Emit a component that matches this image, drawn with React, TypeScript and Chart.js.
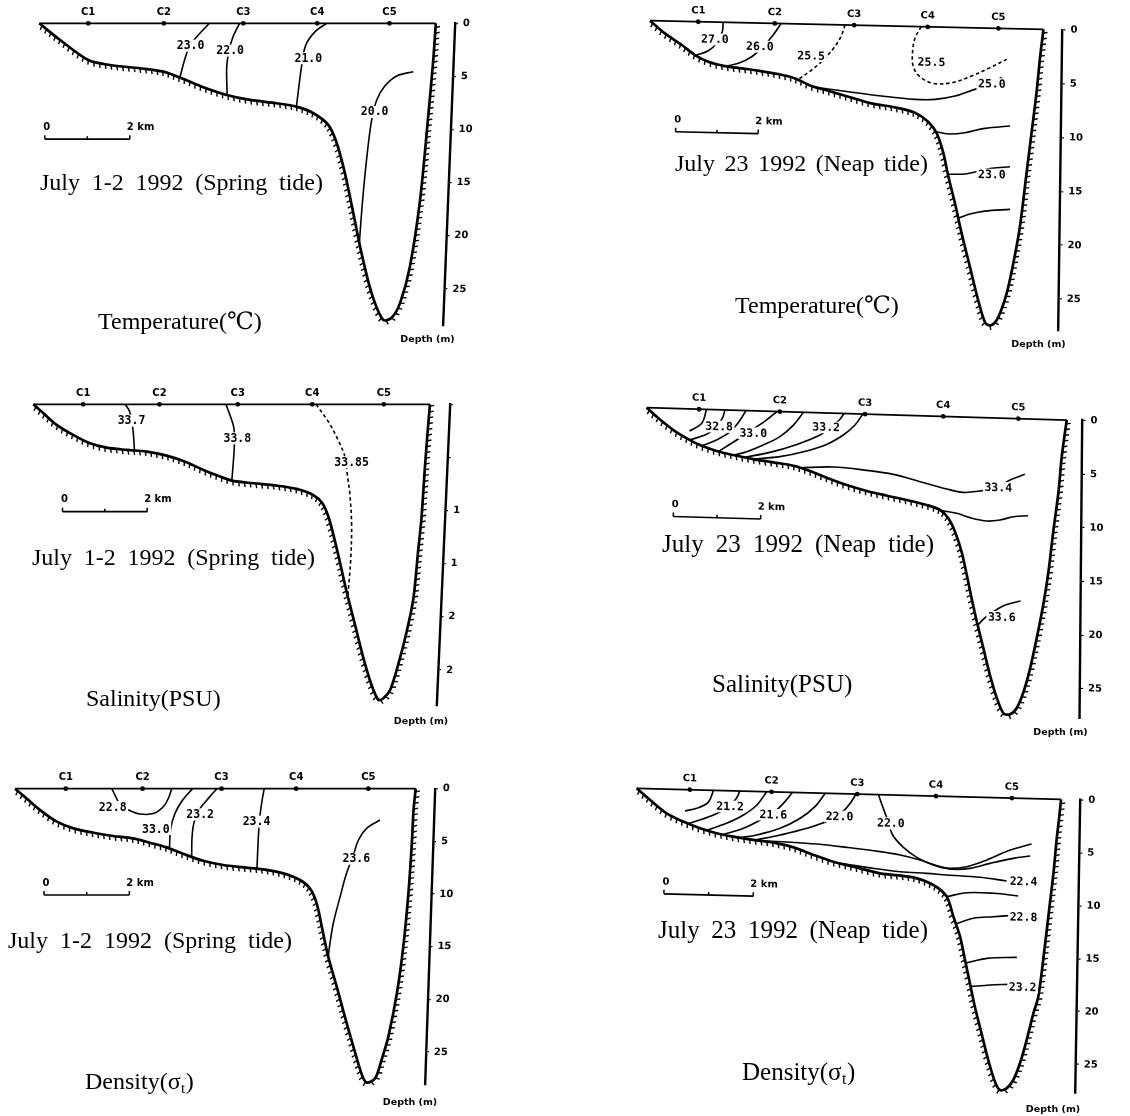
import React, { useEffect, useRef } from "react";
import { Chart, registerables } from "chart.js";

Chart.register(...registerables);

type Pt = [number, number];
type Iso = { pts: Pt[]; label?: string; at?: Pt; dashed?: boolean };

const STATION_NAMES = ["C1", "C2", "C3", "C4", "C5"];
const DEPTH_TICKS = [0, 5, 10, 15, 20, 25];
const DEPTH_TICK_LABELS = ["0", "5", "10", "15", "20", "25"];
const DEPTH_TICK_LABELS_CUT = ["", "", "1", "1", "2", "2"];
const SCALE_BAR_KM = 2;
const DATE_SPRING = "July 1-2 1992 (Spring tide)";
const DATE_NEAP = "July 23 1992 (Neap tide)";

// ---------- Temperature, spring tide ----------
const T_SPRING_STATIONS = [1.15, 2.93, 4.8, 6.54, 8.24];
const T_SPRING_BOTTOM: Pt[] = [
  [0, 0], [0.49, 1.57], [1.15, 3.45], [1.66, 3.92], [2.37, 4.23], [2.92, 4.55], [3.35, 5.17],
  [3.86, 6.02], [4.41, 6.74], [4.96, 7.21], [5.58, 7.52], [6.05, 7.84], [6.45, 8.46], [6.8, 9.56],
  [7.0, 11.29], [7.19, 14.1], [7.39, 17.9], [7.58, 21.6], [7.82, 25.4], [8.09, 27.9], [8.29, 27.7],
  [8.49, 26.3], [8.72, 22.9], [8.96, 16.6], [9.15, 8.8], [9.27, 3.45], [9.33, 0],
];
const T_SPRING_ISO: Iso[] = [
  { label: "23.0", at: [3.56, 2.1], pts: [[4.0, 0], [3.78, 0.94], [3.55, 2.04], [3.43, 3.29], [3.31, 5.08]] },
  { label: "22.0", at: [4.49, 2.57], pts: [[4.71, 0], [4.56, 1.25], [4.47, 2.5], [4.41, 4.08], [4.42, 6.74]] },
  { label: "21.0", at: [6.33, 3.29], pts: [[6.76, 0], [6.49, 0.78], [6.27, 2.04], [6.17, 4.08], [6.05, 7.84]] },
  { label: "20.0", at: [7.89, 8.34], pts: [[8.8, 4.55], [8.41, 4.95], [8.13, 5.9], [7.94, 7.21], [7.82, 9.09], [7.7, 12.85], [7.6, 17.0], [7.53, 20.7]] },
];

// ---------- Temperature, neap tide ----------
const T_NEAP_STATIONS = [1.17, 3.02, 4.94, 6.72, 8.43];
const T_NEAP_BOTTOM: Pt[] = [
  [0, 0], [0.36, 1.15], [0.77, 2.19], [1.09, 3.1], [1.41, 3.69], [1.81, 4.06], [2.22, 4.24],
  [2.62, 4.42], [3.1, 4.69], [3.51, 5.06], [3.91, 5.74], [4.31, 6.14], [4.8, 6.65], [5.36, 7.22],
  [5.93, 7.55], [6.41, 8.0], [6.73, 8.81], [6.94, 9.88], [7.1, 11.72], [7.22, 13.88], [7.38, 16.34],
  [7.54, 19.11], [7.74, 22.19], [7.94, 25.27], [8.12, 27.42], [8.27, 27.56], [8.43, 26.78],
  [8.63, 24.59], [8.79, 21.79], [8.95, 18.37], [9.11, 13.41], [9.23, 9.68], [9.35, 5.96],
  [9.44, 2.54], [9.52, 0],
];
const T_NEAP_ISO: Iso[] = [
  { label: "27.0", at: [1.57, 1.6], pts: [[1.77, 0], [1.75, 0.87], [1.61, 1.97], [1.41, 2.67], [1.1, 3.15]] },
  { label: "26.0", at: [2.66, 2.18], pts: [[3.17, 0], [2.98, 1.08], [2.74, 2.18], [2.46, 3.14], [2.14, 3.78], [1.81, 4.08]] },
  { label: "25.5", at: [3.9, 2.95], dashed: true, pts: [[4.72, 0], [4.62, 1.09], [4.44, 2.19], [4.19, 3.3], [3.91, 4.25], [3.59, 5.15]] },
  { label: "25.5", at: [6.81, 3.29], dashed: true, pts: [[6.56, 0], [6.41, 1.1], [6.35, 2.5], [6.37, 3.73], [6.53, 4.65], [6.85, 5.24], [7.3, 5.14], [7.78, 4.48], [8.19, 3.73], [8.63, 2.86]] },
  { label: "25.0", at: [8.27, 5.18], pts: [[4.01, 5.84], [4.8, 6.19], [5.6, 6.52], [6.41, 6.76], [6.9, 6.72], [7.38, 6.37], [7.86, 5.71], [8.27, 5.18], [8.51, 4.54]] },
  { pts: [[6.91, 9.7], [7.22, 9.91], [7.62, 9.76], [8.1, 9.31], [8.71, 9.04]] },
  { label: "23.0", at: [8.27, 13.6], pts: [[7.21, 13.65], [7.62, 13.59], [7.9, 13.35], [8.27, 13.01], [8.71, 12.82]] },
  { pts: [[7.46, 17.7], [7.74, 17.3], [8.1, 16.99], [8.71, 16.78]] },
];

// ---------- Salinity, spring tide ----------
const S_SPRING_STATIONS = [1.18, 2.98, 4.83, 6.59, 8.28];
const S_SPRING_BOTTOM: Pt[] = [
  [0, 0], [0.24, 0.85], [0.55, 1.94], [0.94, 2.88], [1.34, 3.67], [1.73, 4.08], [2.2, 4.29],
  [2.68, 4.45], [3.15, 4.83], [3.62, 5.45], [4.02, 6.18], [4.41, 6.8], [4.72, 7.21], [5.2, 7.43],
  [5.75, 7.65], [6.22, 7.96], [6.61, 8.53], [6.83, 9.31], [6.97, 10.56], [7.09, 12.29], [7.24, 14.8],
  [7.4, 17.6], [7.6, 20.75], [7.8, 23.9], [7.99, 26.4], [8.15, 27.8], [8.27, 27.65], [8.43, 26.87],
  [8.62, 24.5], [8.82, 21.4], [8.98, 18.24], [9.09, 13.86], [9.17, 10.72], [9.25, 6.02], [9.31, 2.88],
  [9.37, 0],
];
const S_SPRING_ISO: Iso[] = [
  { label: "33.7", at: [2.32, 1.54], pts: [[2.17, 0], [2.27, 0.63], [2.32, 1.47], [2.36, 2.57], [2.39, 4.35]] },
  { label: "33.8", at: [4.82, 3.2], pts: [[4.55, 0], [4.66, 1.16], [4.74, 2.26], [4.75, 3.82], [4.72, 5.71], [4.69, 7.15]] },
  { label: "33.85", at: [7.52, 5.45], dashed: true, pts: [[6.68, 0], [6.97, 1.63], [7.2, 3.35], [7.36, 4.92], [7.42, 6.65], [7.48, 8.53], [7.52, 11.35], [7.5, 14.48], [7.46, 16.68], [7.43, 18.0]] },
];

// ---------- Salinity, neap tide ----------
const S_NEAP_STATIONS = [1.2, 3.05, 5.0, 6.79, 8.51];
const S_NEAP_BOTTOM: Pt[] = [
  [0, 0], [0.27, 0.96], [0.61, 2.01], [0.92, 2.75], [1.22, 3.34], [1.6, 3.85], [1.98, 4.18],
  [2.44, 4.5], [2.9, 4.75], [3.36, 5.01], [3.74, 5.46], [4.12, 6.04], [4.58, 6.67], [5.04, 7.17],
  [5.5, 7.55], [5.95, 7.9], [6.41, 8.31], [6.72, 8.74], [6.91, 9.5], [7.06, 10.72], [7.21, 12.57],
  [7.33, 14.73], [7.44, 16.89], [7.56, 19.06], [7.71, 21.53], [7.86, 24.0], [8.02, 26.15],
  [8.17, 27.53], [8.32, 27.61], [8.47, 27.03], [8.63, 25.46], [8.78, 23.26], [8.93, 20.45],
  [9.08, 17.32], [9.2, 14.2], [9.31, 10.45], [9.43, 6.71], [9.5, 3.59], [9.58, 1.09], [9.62, 0],
];
const S_NEAP_ISO: Iso[] = [
  { pts: [[1.37, 0], [1.26, 1.31], [0.98, 2.06]] },
  { label: "32.8", at: [1.66, 1.57], pts: [[1.79, 0], [1.74, 0.72], [1.6, 1.58], [1.37, 2.32], [0.99, 2.88]] },
  { pts: [[2.27, 0], [2.14, 0.9], [1.91, 2.01], [1.6, 2.82], [1.26, 3.4]] },
  { label: "33.0", at: [2.44, 2.1], pts: [[2.98, 0], [2.71, 0.92], [2.4, 1.79], [2.06, 2.77], [1.64, 3.9]] },
  { pts: [[3.59, 0], [3.36, 1.22], [3.05, 2.34], [2.67, 3.16], [2.29, 3.83], [1.98, 4.2]] },
  { label: "33.2", at: [4.11, 1.34], pts: [[4.52, 0], [4.41, 0.62], [4.2, 1.36], [3.97, 2.07], [3.44, 3.01], [2.82, 3.83], [2.25, 4.35]] },
  { pts: [[4.95, 0], [4.77, 1.04], [4.5, 2.01], [4.12, 2.93], [3.59, 3.68], [3.05, 4.2], [2.44, 4.5]] },
  { label: "33.4", at: [8.05, 6.5], pts: [[3.51, 5.19], [4.27, 5.02], [5.04, 5.24], [5.65, 5.54], [6.26, 6.15], [6.87, 6.76], [7.25, 7.03], [7.63, 6.86], [8.02, 6.5], [8.32, 5.75], [8.66, 5.18]] },
  { pts: [[6.76, 8.8], [7.1, 9.0], [7.4, 9.37], [7.79, 9.64], [8.09, 9.51], [8.4, 9.16], [8.73, 9.03]] },
  { label: "33.6", at: [8.13, 18.58], pts: [[7.58, 19.4], [7.71, 18.79], [7.94, 18.08], [8.21, 17.43], [8.56, 17.01]] },
];

// ---------- Density, spring tide ----------
const D_SPRING_STATIONS = [1.19, 2.99, 4.84, 6.59, 8.28];
const D_SPRING_BOTTOM: Pt[] = [
  [0, 0], [0.27, 0.92], [0.59, 2.03], [0.98, 3.13], [1.37, 3.77], [1.84, 4.18], [2.3, 4.49],
  [2.77, 4.72], [3.16, 5.13], [3.55, 5.57], [3.95, 6.2], [4.41, 6.84], [4.88, 7.25], [5.35, 7.47],
  [5.82, 7.66], [6.29, 8.04], [6.68, 8.67], [6.91, 9.46], [7.07, 10.89], [7.19, 13.1], [7.34, 15.95],
  [7.54, 18.8], [7.73, 21.65], [7.93, 24.5], [8.13, 27.18], [8.24, 27.91], [8.44, 27.5], [8.59, 25.76],
  [8.75, 23.54], [8.95, 19.43], [9.1, 15.0], [9.22, 9.94], [9.3, 5.19], [9.34, 2.03], [9.39, 0],
];
const D_SPRING_ISO: Iso[] = [
  { label: "22.8", at: [2.29, 1.74], pts: [[2.27, 0], [2.38, 0.92], [2.5, 1.71], [2.7, 2.09], [2.93, 2.41], [3.26, 2.34], [3.49, 1.65], [3.61, 0.76], [3.67, 0]] },
  { label: "33.0", at: [3.3, 3.83], pts: [[4.16, 0], [3.93, 1.08], [3.75, 2.34], [3.65, 3.77], [3.62, 5.6]] },
  { label: "23.2", at: [4.34, 2.44], pts: [[4.73, 0], [4.53, 0.92], [4.34, 1.87], [4.2, 3.13], [4.15, 4.56], [4.14, 6.4]] },
  { label: "23.4", at: [5.66, 3.13], pts: [[5.84, 0], [5.78, 1.39], [5.73, 2.97], [5.7, 4.87], [5.67, 7.6]] },
  { label: "23.6", at: [8.0, 6.65], pts: [[8.55, 2.97], [8.24, 3.77], [8.05, 4.87], [7.93, 6.3], [7.77, 8.04], [7.62, 10.25], [7.46, 12.78], [7.37, 15.0], [7.34, 16.0]] },
];

// ---------- Density, neap tide ----------
const D_NEAP_STATIONS = [1.19, 3.02, 4.94, 6.7, 8.4];
const D_NEAP_BOTTOM: Pt[] = [
  [0, 0], [0.3, 1.07], [0.67, 2.29], [1.04, 3.03], [1.42, 3.62], [1.79, 4.05], [2.16, 4.33],
  [2.61, 4.59], [3.06, 4.8], [3.51, 5.19], [3.96, 5.86], [4.4, 6.45], [4.85, 6.87], [5.45, 7.43],
  [6.19, 7.73], [6.64, 8.4], [6.94, 9.47], [7.09, 11.34], [7.24, 13.22], [7.35, 15.41], [7.46, 17.6],
  [7.57, 19.79], [7.72, 22.3], [7.87, 24.8], [8.02, 26.83], [8.13, 27.6], [8.28, 27.43], [8.43, 26.62],
  [8.58, 25.03], [8.73, 22.81], [8.88, 20.28], [8.99, 18.69], [9.1, 15.22], [9.25, 9.85], [9.33, 7.0],
  [9.4, 3.85], [9.46, 1.64], [9.5, 0],
];
const D_NEAP_ISO: Iso[] = [
  { pts: [[1.72, 0], [1.6, 1.15], [1.34, 1.74], [1.08, 2.02]] },
  { label: "21.2", at: [2.09, 1.5], pts: [[2.31, 0], [2.22, 0.77], [2.01, 1.67], [1.68, 2.4], [1.16, 3.2]] },
  { pts: [[2.91, 0], [2.69, 1.28], [2.39, 2.26], [2.01, 3.09], [1.57, 3.8]] },
  { label: "21.6", at: [3.06, 2.18], pts: [[3.49, 0], [3.32, 0.89], [3.13, 1.7], [2.84, 2.52], [2.39, 3.52], [1.94, 4.15]] },
  { pts: [[4.22, 0], [3.99, 1.29], [3.66, 2.43], [3.21, 3.43], [2.69, 4.11], [2.31, 4.41]] },
  { label: "22.0", at: [4.54, 2.18], pts: [[4.91, 0], [4.78, 0.89], [4.63, 1.63], [4.33, 2.52], [3.81, 3.36], [3.21, 4.06], [2.65, 4.6]] },
  { label: "22.0", at: [5.69, 2.68], pts: [[5.41, 0], [5.52, 1.28], [5.63, 2.53], [5.73, 3.78], [5.97, 4.92], [6.27, 5.83], [6.64, 6.51], [6.94, 6.79], [7.39, 6.59], [7.84, 5.91], [8.36, 4.91], [8.84, 4.29]] },
  { pts: [[2.69, 4.63], [3.36, 4.7], [4.03, 4.82], [4.7, 5.06], [5.45, 5.38], [5.9, 5.65], [6.34, 6.07], [6.79, 6.65], [7.09, 6.87], [7.46, 6.74], [7.91, 6.22], [8.43, 5.69], [8.81, 5.43]] },
  { label: "22.4", at: [8.66, 7.87], pts: [[4.51, 6.57], [5.15, 6.9], [5.9, 7.23], [6.49, 7.32], [6.94, 7.42], [7.69, 7.56], [8.28, 7.84]] },
  { pts: [[6.94, 9.47], [7.39, 9.05], [7.99, 9.04], [8.54, 9.23]] },
  { label: "22.8", at: [8.66, 11.23], pts: [[7.15, 12.0], [7.54, 11.45], [7.99, 11.25], [8.34, 11.11]] },
  { pts: [[7.37, 15.7], [7.84, 15.2], [8.51, 15.03]] },
  { label: "23.2", at: [8.64, 17.85], pts: [[7.48, 17.9], [7.91, 17.71], [8.32, 17.6]] },
];

// ---------- panel layout (page pixels) ----------
type Title = { main: string; sub?: string; tail?: string };
type PanelCfg = {
  box: { left: number; top: number; width: number; height: number };
  area: { left: number; top: number; pxPerKm: number; pxPerM: number; xMax: number; yMax: number };
  skew: number;
  tilt: number;
  stations: number[];
  bottom: Pt[];
  iso: Iso[];
  tickLabels: string[];
  barAt: Pt;
  date: { text: string; x: number; y: number; width: number; size: number };
  title: { text: Title; x: number; y: number; size: number };
  depthLabel: { x: number; y: number };
};

const PANELS: PanelCfg[] = [
  {
    box: { left: 0, top: 0, width: 565, height: 372 },
    area: { left: 39.3, top: 23.3, pxPerKm: 42.5, pxPerM: 10.63, xMax: 9.78, yMax: 28.4 },
    skew: 0, tilt: 0.04,
    stations: T_SPRING_STATIONS, bottom: T_SPRING_BOTTOM, iso: T_SPRING_ISO,
    tickLabels: DEPTH_TICK_LABELS, barAt: [0.13, 10.9],
    date: { text: DATE_SPRING, x: 40, y: 189.5, width: 283, size: 24 },
    title: { text: { main: "Temperature(℃)" }, x: 98, y: 329, size: 24 },
    depthLabel: { x: 427.5, y: 340 },
  },
  {
    box: { left: 565, top: 0, width: 565, height: 372 },
    area: { left: 650, top: 20.7, pxPerKm: 41.33, pxPerM: 10.77, xMax: 9.98, yMax: 27.9 },
    skew: 0.0221, tilt: 0.0134,
    stations: T_NEAP_STATIONS, bottom: T_NEAP_BOTTOM, iso: T_NEAP_ISO,
    tickLabels: DEPTH_TICK_LABELS, barAt: [0.62, 10.26],
    date: { text: DATE_NEAP, x: 675, y: 171, width: 253, size: 24 },
    title: { text: { main: "Temperature(℃)" }, x: 735, y: 313, size: 24 },
    depthLabel: { x: 1038.5, y: 345 },
  },
  {
    box: { left: 0, top: 372, width: 565, height: 373 },
    area: { left: 33.3, top: 404.3, pxPerKm: 42.33, pxPerM: 10.63, xMax: 9.84, yMax: 28.3 },
    skew: 0, tilt: 0.0445,
    stations: S_SPRING_STATIONS, bottom: S_SPRING_BOTTOM, iso: S_SPRING_ISO,
    tickLabels: DEPTH_TICK_LABELS_CUT, barAt: [0.69, 10.1],
    date: { text: DATE_SPRING, x: 32, y: 565, width: 283, size: 24 },
    title: { text: { main: "Salinity(PSU)" }, x: 86, y: 706, size: 24 },
    depthLabel: { x: 421, y: 722 },
  },
  {
    box: { left: 565, top: 372, width: 565, height: 373 },
    area: { left: 646.7, top: 407.7, pxPerKm: 43.67, pxPerM: 10.72, xMax: 9.98, yMax: 27.8 },
    skew: 0.0294, tilt: 0.009,
    stations: S_NEAP_STATIONS, bottom: S_NEAP_BOTTOM, iso: S_NEAP_ISO,
    tickLabels: DEPTH_TICK_LABELS, barAt: [0.61, 10.07],
    date: { text: DATE_NEAP, x: 662, y: 552, width: 272, size: 25 },
    title: { text: { main: "Salinity(PSU)" }, x: 712, y: 692, size: 25 },
    depthLabel: { x: 1060.5, y: 733 },
  },
  {
    box: { left: 0, top: 745, width: 565, height: 371 },
    area: { left: 15, top: 788.7, pxPerKm: 42.67, pxPerM: 10.53, xMax: 9.84, yMax: 28.1 },
    skew: 0, tilt: 0.034,
    stations: D_SPRING_STATIONS, bottom: D_SPRING_BOTTOM, iso: D_SPRING_ISO,
    tickLabels: DEPTH_TICK_LABELS, barAt: [0.68, 10.1],
    date: { text: DATE_SPRING, x: 8, y: 948, width: 284, size: 24 },
    title: { text: { main: "Density(σ", sub: "t", tail: ")" }, x: 85, y: 1089, size: 24 },
    depthLabel: { x: 410, y: 1103 },
  },
  {
    box: { left: 565, top: 745, width: 565, height: 371 },
    area: { left: 636.7, top: 788.3, pxPerKm: 44.67, pxPerM: 10.59, xMax: 9.93, yMax: 27.7 },
    skew: 0.026, tilt: 0.017,
    stations: D_NEAP_STATIONS, bottom: D_NEAP_BOTTOM, iso: D_NEAP_ISO,
    tickLabels: DEPTH_TICK_LABELS, barAt: [0.61, 9.9],
    date: { text: DATE_NEAP, x: 658, y: 938, width: 270, size: 25 },
    title: { text: { main: "Density(σ", sub: "t", tail: ")" }, x: 742, y: 1080, size: 25 },
    depthLabel: { x: 1053, y: 1110 },
  },
];

const SERIF = '"Liberation Serif", "DejaVu Serif", "Noto Sans CJK SC", serif';
const AXIS_W = 30;

function drawHatches(ctx: CanvasRenderingContext2D, els: any[], gap: number, len: number) {
  const poly: [number, number][] = [];
  for (let i = 0; i < els.length - 1; i++) {
    const p0 = els[i], p3 = els[i + 1];
    const c1x = p0.cp2x ?? p0.x, c1y = p0.cp2y ?? p0.y;
    const c2x = p3.cp1x ?? p3.x, c2y = p3.cp1y ?? p3.y;
    const N = 16;
    for (let k = 0; k < N; k++) {
      const u = k / N, v = 1 - u;
      const x = v * v * v * p0.x + 3 * v * v * u * c1x + 3 * v * u * u * c2x + u * u * u * p3.x;
      const y = v * v * v * p0.y + 3 * v * v * u * c1y + 3 * v * u * u * c2y + u * u * u * p3.y;
      poly.push([x, y]);
    }
  }
  const last = els[els.length - 1];
  poly.push([last.x, last.y]);
  ctx.beginPath();
  let acc = gap * 0.6;
  for (let i = 0; i < poly.length - 1; i++) {
    const [x0, y0] = poly[i];
    const [x1, y1] = poly[i + 1];
    const dx = x1 - x0, dy = y1 - y0;
    const L = Math.hypot(dx, dy);
    if (!L) continue;
    const ux = dx / L, uy = dy / L;
    const nx = -uy, ny = ux;
    let pos = acc;
    while (pos <= L) {
      const hx = x0 + ux * pos, hy = y0 + uy * pos;
      ctx.moveTo(hx, hy);
      ctx.lineTo(hx + nx * len + ux * len * 0.3, hy + ny * len + uy * len * 0.3);
      pos += gap;
    }
    acc = pos - L;
  }
  ctx.lineWidth = 1.4;
  ctx.strokeStyle = "#000";
  ctx.stroke();
}

function makePlugin(cfg: PanelCfg) {
  const apply = (chart: any, tilt: number) => {
    const { ctx, chartArea: a } = chart;
    ctx.translate(a.left, a.top);
    ctx.transform(1, cfg.skew, -tilt, 1, 0, 0);
    ctx.translate(-a.left, -a.top);
  };
  return {
    id: "sectionDecor",
    beforeDraw(chart: any) {
      chart.ctx.save();
      apply(chart, cfg.tilt);
    },
    beforeDatasetsDraw(chart: any) {
      chart.ctx.restore();
      chart.ctx.save();
      apply(chart, 0);
    },
    afterDatasetsDraw(chart: any) {
      const ctx: CanvasRenderingContext2D = chart.ctx;
      const xs = chart.scales.x, ys = chart.scales.y;
      chart.data.datasets.forEach((ds: any, i: number) => {
        if (ds.hatch) drawHatches(ctx, chart.getDatasetMeta(i).data, 5.8, 4.4);
      });
      // scale bar end ticks and labels
      const bx0 = xs.getPixelForValue(cfg.barAt[0]);
      const bx1 = xs.getPixelForValue(cfg.barAt[0] + SCALE_BAR_KM);
      const by = ys.getPixelForValue(cfg.barAt[1]);
      ctx.beginPath();
      ctx.moveTo(bx0, by); ctx.lineTo(bx0, by - 4);
      ctx.moveTo(bx1, by); ctx.lineTo(bx1, by - 4);
      ctx.moveTo((bx0 + bx1) / 2, by); ctx.lineTo((bx0 + bx1) / 2, by - 3);
      ctx.lineWidth = 1.5; ctx.strokeStyle = "#000"; ctx.stroke();
      ctx.fillStyle = "#000";
      ctx.font = 'bold 10px "DejaVu Sans"';
      ctx.textBaseline = "middle";
      ctx.textAlign = "center";
      ctx.fillText("0", bx0 + 2, by - 12);
      ctx.textAlign = "left";
      ctx.fillText(`${SCALE_BAR_KM} km`, bx1 - 3, by - 12);
      // station names
      ctx.textAlign = "center";
      ctx.font = 'bold 10px "DejaVu Sans"';
      const y0 = ys.getPixelForValue(0);
      cfg.stations.forEach((s, i) => ctx.fillText(STATION_NAMES[i], xs.getPixelForValue(s), y0 - 11));
      // isoline labels
      ctx.font = 'bold 11.5px "DejaVu Sans Mono"';
      cfg.iso.forEach((l) => {
        if (!l.label || !l.at) return;
        const px = xs.getPixelForValue(l.at[0]);
        const py = ys.getPixelForValue(l.at[1]);
        const w = ctx.measureText(l.label).width;
        ctx.fillStyle = "#fff";
        ctx.fillRect(px - w / 2 - 1.5, py - 6, w + 3, 12);
        ctx.fillStyle = "#000";
        ctx.fillText(l.label, px, py + 0.5);
      });
      ctx.restore();
    },
    afterDraw(chart: any) {
      const ctx: CanvasRenderingContext2D = chart.ctx;
      const ox = cfg.box.left, oy = cfg.box.top;
      ctx.save();
      ctx.fillStyle = "#000";
      ctx.textAlign = "left";
      ctx.textBaseline = "alphabetic";
      // date line, words spread to the measured width
      const d = cfg.date;
      ctx.font = `${d.size}px ${SERIF}`;
      const words = d.text.split(" ");
      const ws = words.map((w) => ctx.measureText(w).width);
      const sum = ws.reduce((a, b) => a + b, 0);
      const gap = words.length > 1 ? (d.width - sum) / (words.length - 1) : 0;
      let cx = d.x - ox;
      words.forEach((w, i) => {
        ctx.fillText(w, cx, d.y - oy);
        cx += ws[i] + gap;
      });
      // variable title
      const t = cfg.title;
      ctx.font = `${t.size}px ${SERIF}`;
      let tx = t.x - ox;
      ctx.fillText(t.text.main, tx, t.y - oy);
      tx += ctx.measureText(t.text.main).width;
      if (t.text.sub) {
        ctx.font = `${Math.round(t.size * 0.62)}px ${SERIF}`;
        ctx.fillText(t.text.sub, tx + 0.5, t.y - oy + 4);
        tx += ctx.measureText(t.text.sub).width + 1;
        ctx.font = `${t.size}px ${SERIF}`;
      }
      if (t.text.tail) ctx.fillText(t.text.tail, tx, t.y - oy);
      // depth caption
      ctx.font = 'bold 9.5px "DejaVu Sans"';
      ctx.textAlign = "center";
      ctx.textBaseline = "middle";
      ctx.fillText("Depth (m)", cfg.depthLabel.x - ox, cfg.depthLabel.y - oy);
      ctx.restore();
    },
  };
}

function SectionChart({ cfg }: { cfg: PanelCfg }) {
  const ref = useRef<HTMLCanvasElement>(null);
  useEffect(() => {
    const canvas = ref.current;
    if (!canvas) return;
    const { box, area } = cfg;
    const aLeft = area.left - box.left;
    const aTop = area.top - box.top;
    const aW = area.xMax * area.pxPerKm;
    const aH = area.yMax * area.pxPerM;
    const padding = {
      left: aLeft,
      top: aTop,
      right: box.width - aLeft - aW - AXIS_W,
      bottom: box.height - aTop - aH,
    };
    const xy = (p: Pt) => ({ x: p[0], y: p[1] });
    const line = (pts: Pt[], width: number, extra: any = {}) => ({
      data: pts.map(xy),
      showLine: true,
      borderColor: "#000",
      borderWidth: width,
      pointRadius: 0,
      pointHoverRadius: 0,
      clip: false,
      ...extra,
    });
    const first = cfg.bottom[0];
    const last = cfg.bottom[cfg.bottom.length - 1];
    const datasets: any[] = [
      line(cfg.bottom, 2.7, { tension: 0.3, hatch: true }),
      line([first, last], 1.8),
      {
        data: cfg.stations.map((s) => ({ x: s, y: 0 })),
        showLine: false,
        pointRadius: 2.4,
        pointBackgroundColor: "#000",
        pointBorderColor: "#000",
        pointBorderWidth: 0,
        clip: false,
      },
      line([cfg.barAt, [cfg.barAt[0] + SCALE_BAR_KM, cfg.barAt[1]]], 1.6),
      ...cfg.iso.map((l) => line(l.pts, 1.6, { tension: 0.35, borderDash: l.dashed ? [3.5, 2.8] : [] })),
    ];
    const chart = new Chart(canvas, {
      type: "scatter",
      data: { datasets },
      options: {
        animation: false,
        responsive: false,
        devicePixelRatio: 1,
        events: [],
        layout: { padding },
        plugins: { legend: { display: false }, tooltip: { enabled: false }, title: { display: false } },
        scales: {
          x: { type: "linear", display: false, min: 0, max: area.xMax },
          y: {
            type: "linear",
            position: "right",
            reverse: true,
            min: 0,
            max: area.yMax,
            afterBuildTicks: (s: any) => {
              s.ticks = DEPTH_TICKS.map((v) => ({ value: v }));
            },
            afterFit: (s: any) => {
              s.width = AXIS_W;
            },
            grid: { drawOnChartArea: false, drawTicks: true, tickLength: 3, color: "#000", lineWidth: 1.2 },
            border: { display: true, color: "#000", width: 2.4 },
            ticks: {
              color: "#000",
              padding: 5,
              autoSkip: false,
              maxRotation: 0,
              font: { family: "DejaVu Sans", size: 10, weight: "bold" },
              callback: (v: any) => cfg.tickLabels[DEPTH_TICKS.indexOf(Number(v))] ?? "",
            },
          },
        },
      } as any,
      plugins: [makePlugin(cfg) as any],
    });
    return () => chart.destroy();
  }, [cfg]);
  return (
    <canvas
      ref={ref}
      width={cfg.box.width}
      height={cfg.box.height}
      style={{ position: "absolute", left: cfg.box.left, top: cfg.box.top, width: cfg.box.width, height: cfg.box.height }}
    />
  );
}

export default function App() {
  return (
    <div style={{ position: "absolute", left: 0, top: 0, width: 1130, height: 1116, background: "#fff", overflow: "hidden" }}>
      {PANELS.map((p, i) => (
        <SectionChart key={i} cfg={p} />
      ))}
    </div>
  );
}
